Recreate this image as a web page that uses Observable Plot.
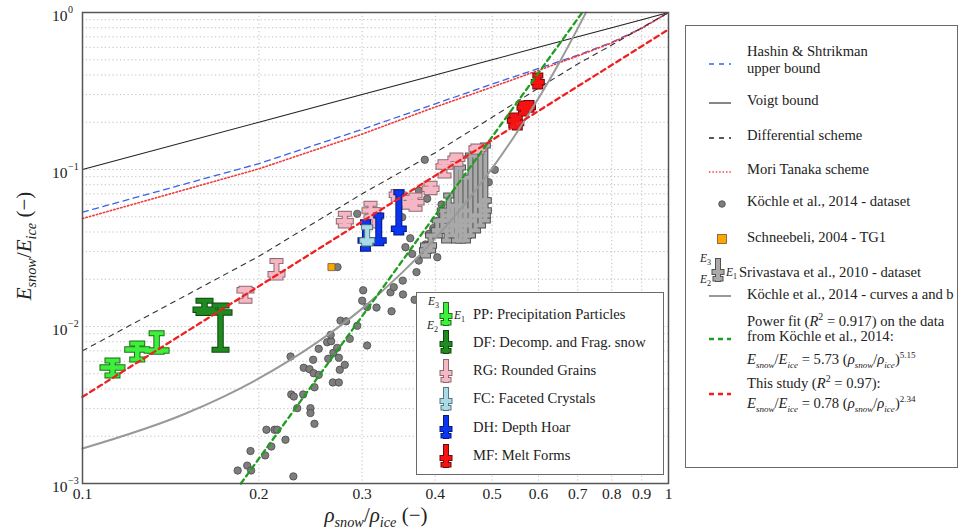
<!DOCTYPE html>
<html>
<head>
<meta charset="utf-8">
<script src="https://cdn.jsdelivr.net/npm/d3@7"></script>
<script src="https://cdn.jsdelivr.net/npm/@observablehq/plot@0.6"></script>
<style>
  body { margin: 0; background: #fff; }
  #chart { position: relative; width: 965px; height: 531px; font-family: "Liberation Serif", serif; color: #222; overflow: hidden; }
  #chart > svg { position: absolute; left: 0; top: 0; }
  .box { position: absolute; background: #fff; border: 1.5px solid #6a6a6a; box-sizing: border-box; }
  .t { position: absolute; font-size: 14.6px; line-height: 16.6px; white-space: nowrap; }
  .smp { position: absolute; overflow: visible; }
  sub, sup { font-size: 0.68em; line-height: 0; }
  .eqn sub { font-size: 0.62em; }
  .eqn sup { font-size: 0.62em; }
  .axlab { position: absolute; font-size: 21px; white-space: nowrap; }
  .el { position: absolute; font-size: 11.5px; font-style: italic; line-height: 12px; }
  .el sub { font-size: 0.7em; font-style: normal; }
</style>
</head>
<body>
<div id="chart"></div>
<script>
// ---- axis ticks ----
const xTicks = [0.1, 0.2, 0.3, 0.4, 0.5, 0.6, 0.7, 0.8, 0.9, 1];
const xTickLabels = ["0.1", "0.2", "0.3", "0.4", "0.5", "0.6", "0.7", "0.8", "0.9", "1"];
const yMajor = [1, 0.1, 0.01, 0.001];
const yExponents = ["0", "\u22121", "\u22122", "\u22123"];
const yGrid = [0.001, 0.002, 0.003, 0.004, 0.005, 0.006, 0.007, 0.008, 0.009,
               0.01, 0.02, 0.03, 0.04, 0.05, 0.06, 0.07, 0.08, 0.09,
               0.1, 0.2, 0.3, 0.4, 0.5, 0.6, 0.7, 0.8, 0.9, 1];

// ---- Köchle et al., 2014 dataset (relative density, relative modulus) ----
const kochleRho = [0.184, 0.191, 0.1935, 0.194, 0.229, 0.205, 0.206, 0.210, 0.2126, 0.2149,
  0.222, 0.2265, 0.2271, 0.2294, 0.2325, 0.238, 0.2385, 0.244, 0.2449, 0.2449,
  0.2488, 0.2475, 0.248, 0.253, 0.2488, 0.253, 0.2615, 0.2657, 0.2652, 0.2626,
  0.2674, 0.2738, 0.268, 0.272, 0.2738, 0.2748, 0.2803, 0.2756, 0.2818, 0.2858,
  0.2943, 0.3013, 0.3001, 0.306, 0.306, 0.3175, 0.3368, 0.3354, 0.3398, 0.352,
  0.3523, 0.3687, 0.3715, 0.3749, 0.3557, 0.3653, 0.3848, 0.4031, 0.3899, 0.3967,
  0.3942, 0.3512, 0.3749, 0.3874, 0.4099, 0.3838, 0.4416, 0.4934, 0.5054, 0.4083,
  0.4503, 0.4652, 0.2943, 0.2724, 0.3625];
const kochleE = [0.00121, 0.00130, 0.00161, 0.00121, 0.00111, 0.00151, 0.00220, 0.00172, 0.00220, 0.00220,
  0.00190, 0.00644, 0.00369, 0.00358, 0.00302, 0.00369, 0.00546, 0.00535, 0.00302, 0.00281,
  0.00240, 0.00614, 0.00504, 0.00492, 0.00410, 0.00721, 0.00794, 0.00806, 0.00885, 0.00623,
  0.00440, 0.00440, 0.00680, 0.00731, 0.00632, 0.00530, 0.00570, 0.0109, 0.0108, 0.00835,
  0.0101, 0.0170, 0.0146, 0.0133, 0.00757, 0.0132, 0.0125, 0.0165, 0.0178, 0.0196,
  0.0160, 0.0148, 0.0222, 0.0263, 0.0320, 0.0290, 0.0333, 0.0276, 0.0389, 0.0423,
  0.0313, 0.0497, 0.0735, 0.0651, 0.0598, 0.1153, 0.0851, 0.0830, 0.0995, 0.0525,
  0.0562, 0.0651, 0.0522, 0.0239, 0.0365];

// ---- Schneebeli, 2004 - TG1 ----
const schneebeliRho = [0.266];
const schneebeliE = [0.0239];

// ---- Srivastava et al., 2010: grain type, density and the three moduli ----
const srivClass = ["other", "other", "other", "other", "other", "other", "other", "other", "other",
  "other", "other", "other", "other", "other", "other", "other", "other",
  "PP", "PP", "PP", "DF", "DF",
  "RG", "RG", "RG", "RG", "RG", "RG", "RG", "RG", "RG", "RG", "RG", "RG",
  "DH", "DH", "DH", "FC",
  "MF", "MF", "MF", "MF", "MF"];
const srivRho = [0.3848, 0.3926, 0.4031, 0.4111, 0.4181, 0.4276, 0.4346, 0.4416, 0.4503,
  0.4592, 0.4683, 0.4776, 0.4869, 0.4416, 0.4216, 0.4869, 0.4503,
  0.1125, 0.124, 0.1338, 0.1615, 0.172,
  0.1897, 0.2143, 0.2803, 0.3101, 0.315, 0.345, 0.360, 0.3701, 0.3926, 0.4147, 0.4346, 0.472,
  0.304, 0.3203, 0.3466, 0.306,
  0.5445, 0.552, 0.5657, 0.578, 0.5984];
const srivE1 = [0.0305, 0.0328, 0.0409, 0.0473, 0.0409, 0.0440, 0.0440, 0.0409, 0.0380,
  0.0473, 0.0509, 0.0590, 0.0635, 0.0473, 0.0509, 0.0548, 0.0473,
  0.00548, 0.00714, 0.00703, 0.0128, 0.0123,
  0.0170, 0.0215, 0.0469, 0.0548, 0.0500, 0.0690, 0.0610, 0.0619, 0.0754, 0.1045, 0.1170, 0.1360,
  0.0353, 0.0353, 0.0419, 0.0353,
  0.205, 0.198, 0.248, 0.250, 0.360];
const srivE2 = [0.0283, 0.0305, 0.0380, 0.0409, 0.0353, 0.0380, 0.0353, 0.0353, 0.0353,
  0.0380, 0.0409, 0.0440, 0.0473, 0.0440, 0.0473, 0.0509, 0.0440,
  0.00488, 0.00616, 0.00690, 0.0122, 0.00711,
  0.0146, 0.0205, 0.0440, 0.0497, 0.0440, 0.0650, 0.0580, 0.0562, 0.0717, 0.0916, 0.1087, 0.1300,
  0.0313, 0.0339, 0.0397, 0.0338,
  0.191, 0.185, 0.227, 0.240, 0.338];
const srivE3 = [0.0328, 0.0380, 0.0473, 0.0548, 0.0440, 0.0590, 0.1092, 0.1030, 0.0889,
  0.1228, 0.1321, 0.1361, 0.1422, 0.0590, 0.0683, 0.0635, 0.0548,
  0.00607, 0.00779, 0.00906, 0.0146, 0.0136,
  0.0174, 0.0261, 0.0522, 0.0605, 0.0550, 0.0720, 0.0660, 0.0683, 0.0811, 0.1113, 0.1228, 0.1400,
  0.0462, 0.0509, 0.0717, 0.0429,
  0.221, 0.215, 0.263, 0.265, 0.397];

// ---- homogenisation models ----
const modelRho = [0.1, 0.2, 0.3, 0.4, 0.5, 0.6, 0.7, 0.8, 0.9, 1];
const voigtE = [0.1, 0.2, 0.3, 0.4, 0.5, 0.6, 0.7, 0.8, 0.9, 1];
const hashinE = [0.0535, 0.109, 0.180, 0.262, 0.350, 0.440, 0.535, 0.645, 0.795, 1];
const moriTanakaE = [0.0487, 0.101, 0.168, 0.250, 0.335, 0.428, 0.528, 0.640, 0.790, 1];
const differentialE = [0.0070, 0.028, 0.070, 0.128, 0.215, 0.330, 0.470, 0.620, 0.800, 1];

// ---- Köchle et al., 2014 curves a and b ----
const kochleCurveRho = [0.1, 0.15, 0.2, 0.25, 0.3, 0.35, 0.4, 0.45, 0.5, 0.55, 0.6, 0.65, 0.7, 0.723];
const kochleCurveE = [0.00167, 0.00279, 0.00467, 0.0078, 0.0130, 0.0218, 0.0364, 0.0608, 0.1016, 0.170, 0.284, 0.474, 0.792, 1.0];

// ---- power laws E/Eice = a (rho/rhoice)^b ----
const powerFit = { a: 5.73, b: 5.15 };   // fit on Köchle et al., 2014
const thisStudy = { a: 0.78, b: 2.34 };  // this study

// ---- styles ----
const classFill = { other: "#a9a9a9", PP: "#3cf03c", DF: "#1f8a1f", RG: "#f7b6c3", FC: "#a9dbe7", DH: "#0a36f2", MF: "#f41212" };
const classEdge = { other: "#505050", PP: "#1e6e14", DF: "#0c480c", RG: "#8a6a70", FC: "#567780", DH: "#061a78", MF: "#720606" };
// glyph proportions in pixels: stem width, wide bar (E1) width, cap width
const classSize = {
  other: { stem: 4, wide: 11, cap: 9 },
  PP: { stem: 4.5, wide: 24, cap: 14 },
  DF: { stem: 4.5, wide: 22, cap: 16 },
  RG: { stem: 4, wide: 16, cap: 12 },
  FC: { stem: 4, wide: 14, cap: 10 },
  DH: { stem: 5, wide: 14, cap: 9 },
  MF: { stem: 5, wide: 12, cap: 9 }
};
const drawOrder = ["other", "PP", "DF", "RG", "DH", "FC", "MF"];

const rows = (xs, ys) => xs.map((x, i) => ({ x, y: ys[i] }));

// power law sampled across the density range, kept inside the y domain
function powerCurve({ a, b }) {
  const lo = Math.max(0.1, Math.pow(0.001 / a, 1 / b));
  const hi = Math.min(1, Math.pow(1 / a, 1 / b));
  const xs = d3.range(0, 201).map(i => lo * Math.pow(hi / lo, i / 200));
  return xs.map(x => ({ x, y: a * Math.pow(x, b) }));
}

// rectangular bar symbol for the Srivastava glyphs
const bar = (w, h) => ({ draw(ctx) { ctx.rect(-w / 2, -h / 2, w, h); } });

const samples = srivRho.map((rho, i) => ({
  cls: srivClass[i], rho, e1: srivE1[i], e2: srivE2[i], e3: srivE3[i],
  lo: Math.min(srivE1[i], srivE2[i], srivE3[i]),
  hi: Math.max(srivE1[i], srivE2[i], srivE3[i])
}));

function glyphMarks(data, fill, edge, size) {
  const wideBar = bar(size.wide, 4.5);
  const capBar = bar(size.cap, 4);
  return [
    // outline pass
    Plot.ruleX(data, { x: "rho", y1: "lo", y2: "hi", stroke: edge, strokeWidth: size.stem + 2 }),
    Plot.dot(data, { x: "rho", y: "e3", symbol: capBar, fill: edge, stroke: edge, strokeWidth: 2 }),
    Plot.dot(data, { x: "rho", y: "e2", symbol: capBar, fill: edge, stroke: edge, strokeWidth: 2 }),
    Plot.dot(data, { x: "rho", y: "e1", symbol: wideBar, fill: edge, stroke: edge, strokeWidth: 2 }),
    // fill pass
    Plot.ruleX(data, { x: "rho", y1: "lo", y2: "hi", stroke: fill, strokeWidth: size.stem }),
    Plot.dot(data, { x: "rho", y: "e3", symbol: capBar, fill, stroke: "none" }),
    Plot.dot(data, { x: "rho", y: "e2", symbol: capBar, fill, stroke: "none" }),
    Plot.dot(data, { x: "rho", y: "e1", symbol: wideBar, fill, stroke: "none" })
  ];
}

const chart = Plot.plot({
  width: 965,
  height: 531,
  marginLeft: 82,
  marginRight: 297,
  marginTop: 12,
  marginBottom: 48,
  style: { fontFamily: "Liberation Serif, serif", fontSize: "15px", background: "transparent", color: "#222" },
  x: { type: "log", domain: [0.1, 1], axis: null },
  y: { type: "log", domain: [0.001, 1], axis: null },
  marks: [
    Plot.gridX(xTicks, { stroke: "#b8b8b8", strokeOpacity: 1, strokeWidth: 0.9, strokeDasharray: "1.2,2.6" }),
    Plot.gridY(yGrid, { stroke: "#b8b8b8", strokeOpacity: 1, strokeWidth: 0.9, strokeDasharray: "1.2,2.6" }),
    Plot.text(xTicks, { x: d => d, frameAnchor: "bottom", text: d => xTickLabels[xTicks.indexOf(d)], lineAnchor: "top", dy: 4, fontSize: 15.5 }),
    Plot.text(yMajor, { y: d => d, frameAnchor: "left", text: () => "10", textAnchor: "end", dx: -15, dy: 4, fontSize: 15.5 }),
    Plot.text(yMajor, { y: d => d, frameAnchor: "left", text: d => yExponents[yMajor.indexOf(d)], textAnchor: "start", dx: -14.5, dy: -3, fontSize: 10 }),

    // bounds and homogenisation schemes
    Plot.line(rows(modelRho, voigtE), { x: "x", y: "y", stroke: "#222", strokeWidth: 1.1 }),
    Plot.line(rows(modelRho, hashinE), { x: "x", y: "y", stroke: "#3a62e8", strokeWidth: 1.3, strokeDasharray: "6,4.5" }),
    Plot.line(rows(modelRho, moriTanakaE), { x: "x", y: "y", stroke: "#f03c3c", strokeWidth: 1.6, strokeDasharray: "1.4,2.2" }),
    Plot.line(rows(modelRho, differentialE), { x: "x", y: "y", stroke: "#333", strokeWidth: 1.1, strokeDasharray: "5,5" }),

    // measurements
    Plot.dot(rows(kochleRho, kochleE), { x: "x", y: "y", r: 3.7, fill: "#7d7d7d", stroke: "#4a4a4a", strokeWidth: 0.8 }),
    Plot.dot(rows(schneebeliRho, schneebeliE), { x: "x", y: "y", symbol: "square", r: 4, fill: "#ffa500", stroke: "#6a5a40", strokeWidth: 0.8 }),
    ...drawOrder.flatMap(c => glyphMarks(samples.filter(s => s.cls === c), classFill[c], classEdge[c], classSize[c])),

    // fitted curves
    Plot.line(rows(kochleCurveRho, kochleCurveE), { x: "x", y: "y", stroke: "#999", strokeWidth: 2, curve: "monotone-x" }),
    Plot.line(powerCurve(powerFit), { x: "x", y: "y", stroke: "#1e9e1e", strokeWidth: 2.3, strokeDasharray: "5,4" }),
    Plot.line(powerCurve(thisStudy), { x: "x", y: "y", stroke: "#f02020", strokeWidth: 2.3, strokeDasharray: "5,4" }),

    Plot.frame({ stroke: "#555", strokeWidth: 1.5 })
  ]
});

const root = document.getElementById("chart");
root.appendChild(chart);

// ---- axis titles ----
const frac = (v, a, b) => `<i>${v}</i><sub><i>${a}</i></sub>/<i>${v}</i><sub><i>${b}</i></sub>`;
root.insertAdjacentHTML("beforeend", `
  <div class="axlab" style="left:376px;top:515px;transform:translate(-50%,-50%)">${frac("\u03C1", "snow", "ice")} (\u2212)</div>
  <div class="axlab" style="left:24px;top:246px;transform:translate(-50%,-50%) rotate(-90deg)">${frac("E", "snow", "ice")} (\u2212)</div>
`);

// ---- legend glyph for the grain types ----
function legendGlyph(fill, edge) {
  const shapes = `<rect x="6" y="2" width="4" height="22"/><rect x="2.5" y="13" width="11" height="4"/><rect x="3.5" y="20" width="9" height="3.5"/>`;
  return `<svg width="16" height="26"><g fill="${edge}" stroke="${edge}" stroke-width="2">${shapes}</g><g fill="${fill}">${shapes}</g></svg>`;
}

// ---- legend of the main panel ----
const seg = (stroke, width, dash) =>
  `<svg width="24" height="12"><line x1="1" y1="6" x2="23" y2="6" stroke="${stroke}" stroke-width="${width}" ${dash ? `stroke-dasharray="${dash}"` : ""}/></svg>`;
const eq = (a, b) => `${frac("E", "snow", "ice")} = ${a} (${frac("\u03C1", "snow", "ice")})<sup>${b}</sup>`;

root.insertAdjacentHTML("beforeend", `
<div class="box" style="left:685px;top:25px;width:273px;height:443px">
  <div class="smp" style="left:22px;top:30px">${seg("#3a62e8", 1.3, "5,5")}</div>
  <div class="t" style="left:61px;top:17px">Hashin &amp; Shtrikman<br>upper bound</div>
  <div class="smp" style="left:22px;top:69px">${seg("#444", 1.3)}</div>
  <div class="t" style="left:61px;top:66px">Voigt bound</div>
  <div class="smp" style="left:22px;top:104px">${seg("#222", 1.3, "5,5")}</div>
  <div class="t" style="left:61px;top:101px">Differential scheme</div>
  <div class="smp" style="left:22px;top:138px">${seg("#f03c3c", 1.5, "1.4,2")}</div>
  <div class="t" style="left:61px;top:135px">Mori Tanaka scheme</div>
  <div class="smp" style="left:30px;top:170px"><svg width="12" height="12"><circle cx="6" cy="6" r="3.3" fill="#7d7d7d" stroke="#4a4a4a" stroke-width="0.8"/></svg></div>
  <div class="t" style="left:61px;top:167px">K\u00F6chle et al., 2014 - dataset</div>
  <div class="smp" style="left:30px;top:205px"><svg width="12" height="12"><rect x="1.5" y="1.5" width="9" height="9" fill="#ffa500" stroke="#6a5a40" stroke-width="0.8"/></svg></div>
  <div class="t" style="left:61px;top:203px">Schneebeli, 2004 - TG1</div>
  <div class="smp" style="left:24px;top:231px">${legendGlyph("#a9a9a9", "#505050")}</div>
  <div class="el" style="left:14px;top:226px">E<sub>3</sub></div>
  <div class="el" style="left:14px;top:247px">E<sub>2</sub></div>
  <div class="el" style="left:40px;top:240px">E<sub>1</sub></div>
  <div class="t" style="left:53px;top:238px">Srivastava et al., 2010 - dataset</div>
  <div class="smp" style="left:22px;top:262px">${seg("#999", 2)}</div>
  <div class="t" style="left:61px;top:260px">K\u00F6chle et al., 2014 - curves a and b</div>
  <div class="smp" style="left:22px;top:305px">${seg("#1e9e1e", 2.3, "5,4")}</div>
  <div class="t" style="left:61px;top:287px">Power fit (<i>R</i><sup>2</sup> = 0.917) on the data</div>
  <div class="t" style="left:61px;top:302px">from K\u00F6chle et al., 2014:</div>
  <div class="t eqn" style="left:61px;top:325px">${eq("5.73", "5.15")}</div>
  <div class="smp" style="left:22px;top:360px">${seg("#f02020", 2.3, "5,4")}</div>
  <div class="t" style="left:61px;top:349px">This study (<i>R</i><sup>2</sup> = 0.97):</div>
  <div class="t eqn" style="left:61px;top:369px">${eq("0.78", "2.34")}</div>
</div>
`);

// ---- grain type legend inside the plot ----
const grainTypes = ["PP", "DF", "RG", "FC", "DH", "MF"];
const grainNames = ["PP: Precipitation Particles", "DF: Decomp. and Frag. snow", "RG: Rounded Grains",
                    "FC: Faceted Crystals", "DH: Depth Hoar", "MF: Melt Forms"];
const inner = grainTypes.map((g, i) => `
  <div class="smp" style="left:21px;top:${8 + i * 28.3}px">${legendGlyph(classFill[g], classEdge[g])}</div>
  <div class="t" style="left:56px;top:${12.5 + i * 28.3}px">${grainNames[i]}</div>`).join("");
root.insertAdjacentHTML("beforeend", `
<div class="box" style="left:416px;top:292px;width:248px;height:183px">
  ${inner}
  <div class="el" style="left:11px;top:2px">E<sub>3</sub></div>
  <div class="el" style="left:10px;top:26px">E<sub>2</sub></div>
  <div class="el" style="left:37px;top:16px">E<sub>1</sub></div>
</div>
`);
</script>
</body>
</html>
